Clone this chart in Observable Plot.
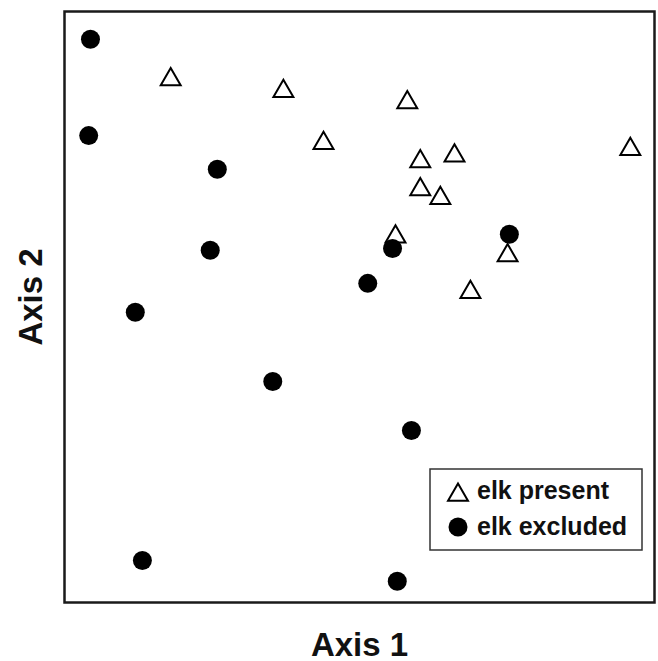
<!DOCTYPE html>
<html><head><meta charset="utf-8">
<script src="https://cdn.jsdelivr.net/npm/d3@7"></script>
<script src="https://cdn.jsdelivr.net/npm/@observablehq/plot@0.6"></script>
<style>body{margin:0;background:#fff}</style>
</head><body><div id="chart"></div>
<script>
// NMDS-like ordination scores (arbitrary units, 0–100 frame)
const presentX = [18.0, 37.1, 43.9, 58.1, 60.3, 66.1, 60.3, 63.7, 56.1, 75.1, 68.8, 95.9];
const presentY = [88.5, 86.5, 77.7, 84.6, 74.6, 75.6, 69.9, 68.4, 61.9, 58.7, 52.5, 76.7];
const excludedX = [4.4, 4.1, 25.9, 24.7, 12.0, 35.3, 13.2, 55.6, 51.4, 75.4, 58.8, 56.4];
const excludedY = [95.3, 79.0, 73.3, 59.6, 49.1, 37.4, 7.1, 59.9, 54.0, 62.3, 29.1, 3.6];
const groups = ["elk present", "elk excluded"];
const axisTitles = ["Axis 1", "Axis 2"];

const present = presentX.map((x, i) => ({x, y: presentY[i], group: groups[0]}));
const excluded = excludedX.map((x, i) => ({x, y: excludedY[i], group: groups[1]}));

const FONT = "'Liberation Sans', Arial, Helvetica, sans-serif";
const TRI_R = 7.4;

function legendMark(index, scales, values, dims) {
  const right = dims.width - dims.marginRight;
  const bottom = dims.height - dims.marginBottom;
  const bx = right - 224, by = bottom - 133;
  const g = d3.create("svg:g");
  g.append("rect").attr("x", bx).attr("y", by).attr("width", 212).attr("height", 81)
    .attr("fill", "white").attr("stroke", "#333").attr("stroke-width", 1.5);
  g.append("path")
    .attr("d", d3.symbol(d3.symbolTriangle, TRI_R * TRI_R * Math.PI)())
    .attr("transform", `translate(${bx + 28},${by + 26})`)
    .attr("fill", "white").attr("stroke", "black").attr("stroke-width", 2);
  g.append("circle").attr("cx", bx + 28).attr("cy", by + 58).attr("r", 9.5).attr("fill", "black");
  [[groups[0], by + 30], [groups[1], by + 66]].forEach(([t, y]) => {
    g.append("text").attr("x", bx + 47).attr("y", y)
      .attr("text-anchor", "start")
      .attr("font-family", FONT).attr("font-weight", "bold").attr("font-size", 25)
      .attr("fill", "#111").text(t);
  });
  return g.node();
}

const chart = Plot.plot({
  width: 658,
  height: 661,
  marginLeft: 64,
  marginTop: 11,
  marginRight: 4,
  marginBottom: 59,
  style: {fontFamily: FONT, background: "white"},
  x: {domain: [0, 100], axis: null},
  y: {domain: [0, 100], axis: null},
  marks: [
    Plot.dot(present, {x: "x", y: "y", symbol: "triangle", r: TRI_R, stroke: "black", strokeWidth: 2, fill: "white"}),
    Plot.dot(excluded, {x: "x", y: "y", symbol: "circle", r: 9.5, fill: "black", stroke: "none"}),
    Plot.frame({stroke: "#1a1a1a", strokeWidth: 2.5}),
    Plot.text([axisTitles[0]], {text: d => d, frameAnchor: "bottom", textAnchor: "middle", dy: 53, fontSize: 33, fontWeight: "bold", fill: "#111"}),
    Plot.text([axisTitles[1]], {text: d => d, frameAnchor: "left", textAnchor: "middle", lineAnchor: "middle", dx: -33, dy: -10, rotate: -90, fontSize: 33, fontWeight: "bold", fill: "#111"}),
    legendMark
  ]
});
document.getElementById("chart").appendChild(chart);
</script>
</body></html>
